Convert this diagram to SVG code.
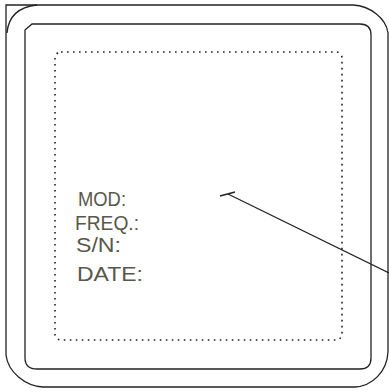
<svg xmlns="http://www.w3.org/2000/svg" width="389" height="392" viewBox="0 0 389 392">
<style>
.ln{fill:none;stroke:#222;stroke-width:1.3}
.dot{fill:none;stroke:#222;stroke-width:1.6;stroke-dasharray:1.6 4.4}
.lbl{font-family:"Liberation Sans",Arial,sans-serif;fill:#58584a}
</style>
<rect width="389" height="392" fill="#fff"/>
<g id="outer-frame">
<path class="ln" d="M6,33 V5 H37"/>
<path class="ln" d="M7,33 Q9,8 37,5 H353 C370,6 386,18 388,33 V352 C387,372 372,386 355,387 H43 C25,386 8,372 6,355 V33"/>
</g>
<g id="inner-frame">
<path class="ln" d="M32,24 H360 Q371,24 371,35 V358 Q371,369 360,369 H37 Q25,369 25,358 V30 Z"/>
</g>
<g id="label-area">
<rect class="dot" x="55" y="52" width="287" height="288" rx="6"/>
<text class="lbl" x="78" y="206" style="font-size:20px" textLength="48" lengthAdjust="spacingAndGlyphs">MOD:</text>
<text class="lbl" x="75" y="230" style="font-size:20.5px" textLength="64" lengthAdjust="spacingAndGlyphs">FREQ.:</text>
<text class="lbl" x="76" y="252" style="font-size:21px" textLength="45" lengthAdjust="spacingAndGlyphs">S/N:</text>
<text class="lbl" x="77" y="281" style="font-size:21px" textLength="66" lengthAdjust="spacingAndGlyphs">DATE:</text>
</g>
<g id="connectors">
<line class="ln" x1="228" y1="194" x2="389" y2="273"/>
<line class="ln" x1="220" y1="196" x2="235" y2="192"/>
</g>
</svg>
